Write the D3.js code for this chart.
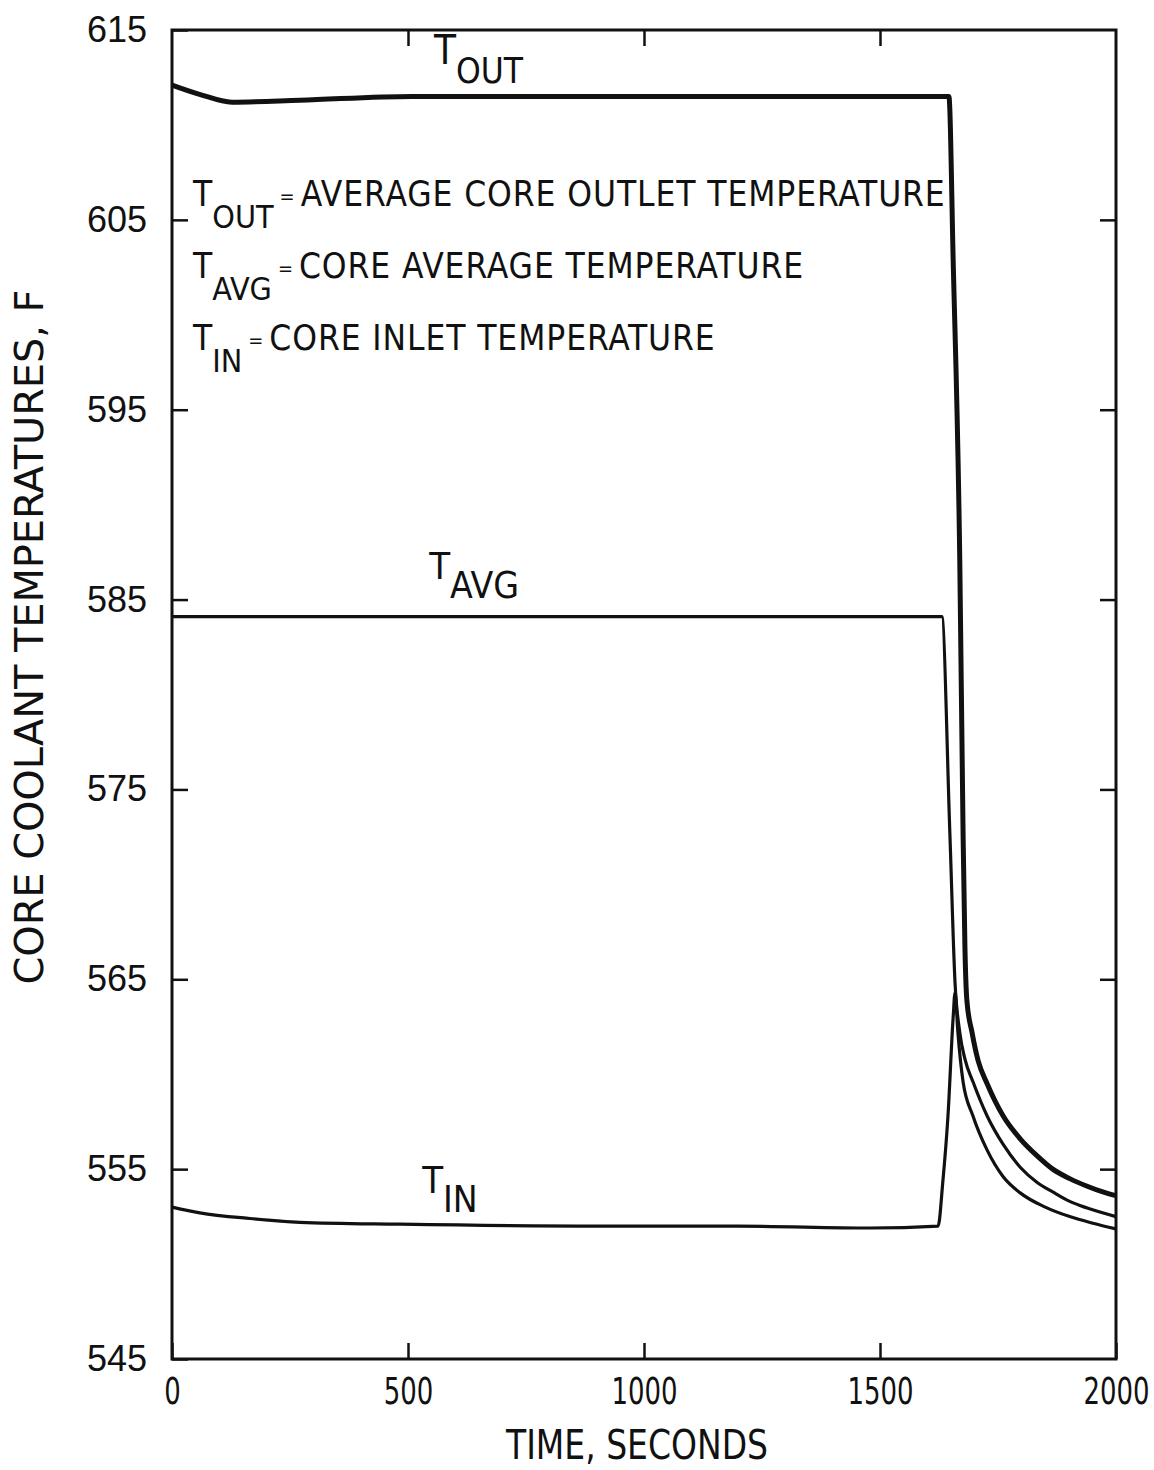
<!DOCTYPE html>
<html>
<head>
<meta charset="utf-8">
<script src="https://cdn.jsdelivr.net/npm/d3@7"></script>
<style>
  body { margin: 0; background: #fff; }
  .narrow { font-family: "Liberation Sans Narrow", "DejaVu Sans Condensed", "Arial Narrow", sans-serif; }
  .y-axis .tick text { font-family: "Liberation Sans", Arial, sans-serif; font-size: 36px; fill: #111; }
  .x-axis .tick text { font-family: "Liberation Sans Narrow", "DejaVu Sans Condensed", sans-serif; font-size: 38px; fill: #111; }
</style>
</head>
<body>
<div id="result"></div>
<script>
// time (s) / temperature (F)
var tOutTime = [0, 60, 127, 271, 508, 907, 1300, 1646, 1655, 1669, 1676, 1680, 1684, 1695, 1708, 1727, 1761, 1797, 1833, 1866, 1902, 1939, 1972, 2000];
var tOutVal  = [612.1, 611.6, 611.2, 611.3, 611.5, 611.5, 611.5, 611.5, 602.9, 587.1, 572.7, 566.6, 563.9, 562.2, 560.7, 559.5, 557.8, 556.6, 555.7, 555.0, 554.5, 554.1, 553.8, 553.6];

var tAvgTime = [0, 500, 1000, 1631, 1648, 1659, 1669, 1680, 1697, 1727, 1761, 1797, 1833, 1866, 1902, 1939, 2000];
var tAvgVal  = [584.1, 584.1, 584.1, 584.1, 572.7, 564.8, 562.2, 560.8, 559.6, 557.8, 556.3, 555.1, 554.3, 553.8, 553.3, 552.95, 552.5];

var tInTime = [0, 59, 165, 271, 483, 907, 1200, 1479, 1623, 1633, 1644, 1655, 1659, 1665, 1676, 1697, 1727, 1761, 1797, 1850, 1902, 1951, 2000];
var tInVal  = [553.0, 552.7, 552.4, 552.2, 552.1, 552.0, 552.0, 551.9, 552.0, 554.3, 557.8, 563.0, 564.3, 562.2, 559.6, 557.8, 556.0, 554.6, 553.75, 553.0, 552.5, 552.15, 551.85];

var xTicks = [0, 500, 1000, 1500, 2000];
var yTicks = [545, 555, 565, 575, 585, 595, 605, 615];

var legendLines = [
  {main: "T", sub: "OUT", text: "AVERAGE CORE OUTLET TEMPERATURE"},
  {main: "T", sub: "AVG", text: "CORE AVERAGE TEMPERATURE"},
  {main: "T", sub: "IN",  text: "CORE INLET TEMPERATURE"}
];

var margin = {top: 30, right: 38, bottom: 111, left: 172},
    width = 1154 - margin.left - margin.right,
    height = 1470 - margin.top - margin.bottom;

var x = d3.scaleLinear().domain([0, 2000]).range([0, width]);
var y = d3.scaleLinear().domain([545, 615]).range([height, 0]);

var svg = d3.select("#result").append("svg")
    .attr("width", 1154)
    .attr("height", 1470)
  .append("g")
    .attr("transform", "translate(" + margin.left + "," + margin.top + ")");

function zip(t, v) {
  return t.map(function(d, i) { return {step: d, val: v[i]}; });
}

var line = d3.line()
    .x(function(d) { return x(d.step); })
    .y(function(d) { return y(d.val); })
    .curve(d3.curveMonotoneX);

// axes, ticks pointing inward
svg.append("g")
    .attr("class", "x-axis")
    .attr("transform", "translate(0," + height + ")")
    .call(d3.axisBottom(x).tickValues(xTicks).tickFormat(d3.format("d"))
      .tickSizeInner(-16).tickSizeOuter(0).tickPadding(18));

// squeeze the time labels to the narrow face of the original
svg.selectAll(".x-axis .tick text")
    .attr("transform", "scale(0.76,1)");

svg.append("g")
    .attr("class", "y-axis")
    .call(d3.axisLeft(y).tickValues(yTicks).tickSizeInner(-16).tickSizeOuter(0).tickPadding(25));

svg.append("g")
    .call(d3.axisTop(x).tickValues([500, 1000, 1500]).tickSizeInner(-16).tickSizeOuter(0).tickFormat(""));

svg.append("g")
    .attr("transform", "translate(" + width + ",0)")
    .call(d3.axisRight(y).tickValues([555, 565, 575, 585, 595, 605]).tickSizeInner(-16).tickSizeOuter(0).tickFormat(""));

svg.selectAll(".domain").remove();
svg.selectAll(".tick line").attr("stroke", "#111").attr("stroke-width", 2.5);

svg.append("rect")
    .attr("width", width)
    .attr("height", height)
    .attr("fill", "none")
    .attr("stroke", "#111")
    .attr("stroke-width", 3);

// curves
svg.append("path").datum(zip(tInTime, tInVal))
    .attr("d", line).attr("fill", "none").attr("stroke", "#111").attr("stroke-width", 3.2);
svg.append("path").datum(zip(tAvgTime, tAvgVal))
    .attr("d", line).attr("fill", "none").attr("stroke", "#111").attr("stroke-width", 3.2);
svg.append("path").datum(zip(tOutTime, tOutVal))
    .attr("d", line).attr("fill", "none").attr("stroke", "#111").attr("stroke-width", 5);

// curve labels
function subLabel(g, px, py, main, sub, size, subSize, drop) {
  var t = g.append("text").attr("class", "narrow")
      .attr("x", px).attr("y", py)
      .attr("font-size", size).attr("fill", "#111");
  t.append("tspan").text(main);
  t.append("tspan").attr("dy", drop).attr("font-size", subSize).text(sub);
  return t;
}

subLabel(svg, x(555), y(613.2), "T", "OUT", 40, 35, 19);
subLabel(svg, x(545), y(586.1), "T", "AVG", 38, 37, 19);
subLabel(svg, x(530), y(553.75), "T", "IN", 38, 37, 19);

// legend
legendLines.forEach(function(l, i) {
  var by = 206 - margin.top + i * 72;
  var t = svg.append("text").attr("class", "narrow")
      .attr("x", 21).attr("y", by)
      .attr("font-size", 35).attr("fill", "#111");
  t.append("tspan").text(l.main);
  t.append("tspan").attr("dy", 22).attr("font-size", 32).text(l.sub);
  t.append("tspan").attr("dy", -25).attr("font-size", 20).attr("dx", 6).text("=");
  t.append("tspan").attr("dy", 3).attr("dx", 6).attr("letter-spacing", 0.9).text(l.text);
});

// axis titles
svg.append("text")
    .attr("class", "narrow")
    .attr("x", 637 - margin.left)
    .attr("y", 1459 - margin.top)
    .attr("text-anchor", "middle")
    .attr("font-size", 41)
    .attr("fill", "#111")
    .attr("textLength", 262)
    .attr("lengthAdjust", "spacingAndGlyphs")
    .text("TIME, SECONDS");

svg.append("text")
    .attr("class", "narrow")
    .attr("transform", "translate(" + (43 - margin.left) + "," + (637 - margin.top) + ") rotate(-90)")
    .attr("text-anchor", "middle")
    .attr("font-size", 39)
    .attr("fill", "#111")
    .attr("textLength", 695)
    .attr("lengthAdjust", "spacingAndGlyphs")
    .text("CORE COOLANT TEMPERATURES, F");
</script>
</body>
</html>
